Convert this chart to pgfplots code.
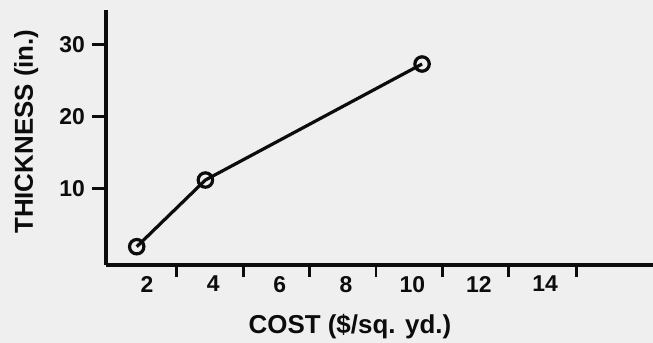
\documentclass[border=0pt]{standalone}
\usepackage{pgfplots}
\pgfplotsset{compat=1.18}
\usepackage{fontspec}
\setmainfont{Liberation Sans}
\definecolor{paper}{RGB}{239,239,239}
\definecolor{ink}{RGB}{12,12,12}
\begin{document}
\begin{tikzpicture}
\fill[paper] (-53bp,-39bp) rectangle (273.5bp,132.5bp);
\begin{axis}[
  scale only axis,
  width=273.5bp, height=127.5bp,
  xmin=0.764, xmax=17.25,
  ymin=-0.65, ymax=34.76,
  axis x line=bottom, axis y line=left,
  axis line style={-, line width=1.8bp, ink},
  xtick={2,4,6,8,10,12,14},
  minor xtick={2.9,4.9,6.9,8.9,10.9,12.9,14.95},
  ytick={10,20,30},
  tick align=outside,
  major tick length=7bp,
  minor tick length=6bp,
  major x tick style={draw=none},
  minor x tick style={line width=1.4bp, ink},
  y tick style={line width=1.4bp, ink},
  /pgf/number format/assume math mode=true,
  ticklabel style={font=\fontsize{11.5}{12}\selectfont\bfseries, text=ink},
  xticklabel style={yshift=5bp},
  xlabel={COST (\$/sq. yd.)},
  ylabel={THICKNESS (in.)},
  every axis x label/.style={at={(axis description cs:0.446,-0.243)}, anchor=center, font=\fontsize{13}{14}\selectfont\bfseries, text=ink},
  every axis y label/.style={at={(axis description cs:-0.146,0.523)}, rotate=90, anchor=center, font=\fontsize{13}{14}\selectfont\bfseries, text=ink},
]
\addplot[ink, line width=1.6bp, mark=o, mark size=3.6bp, mark options={fill=paper, line width=1.6bp}]
  coordinates {(1.69,1.89) (3.76,11.15) (10.29,27.26)};
\end{axis}
\pgfresetboundingbox
\useasboundingbox (-53bp,-39bp) rectangle (273.5bp,132.5bp);
\end{tikzpicture}
\end{document}
